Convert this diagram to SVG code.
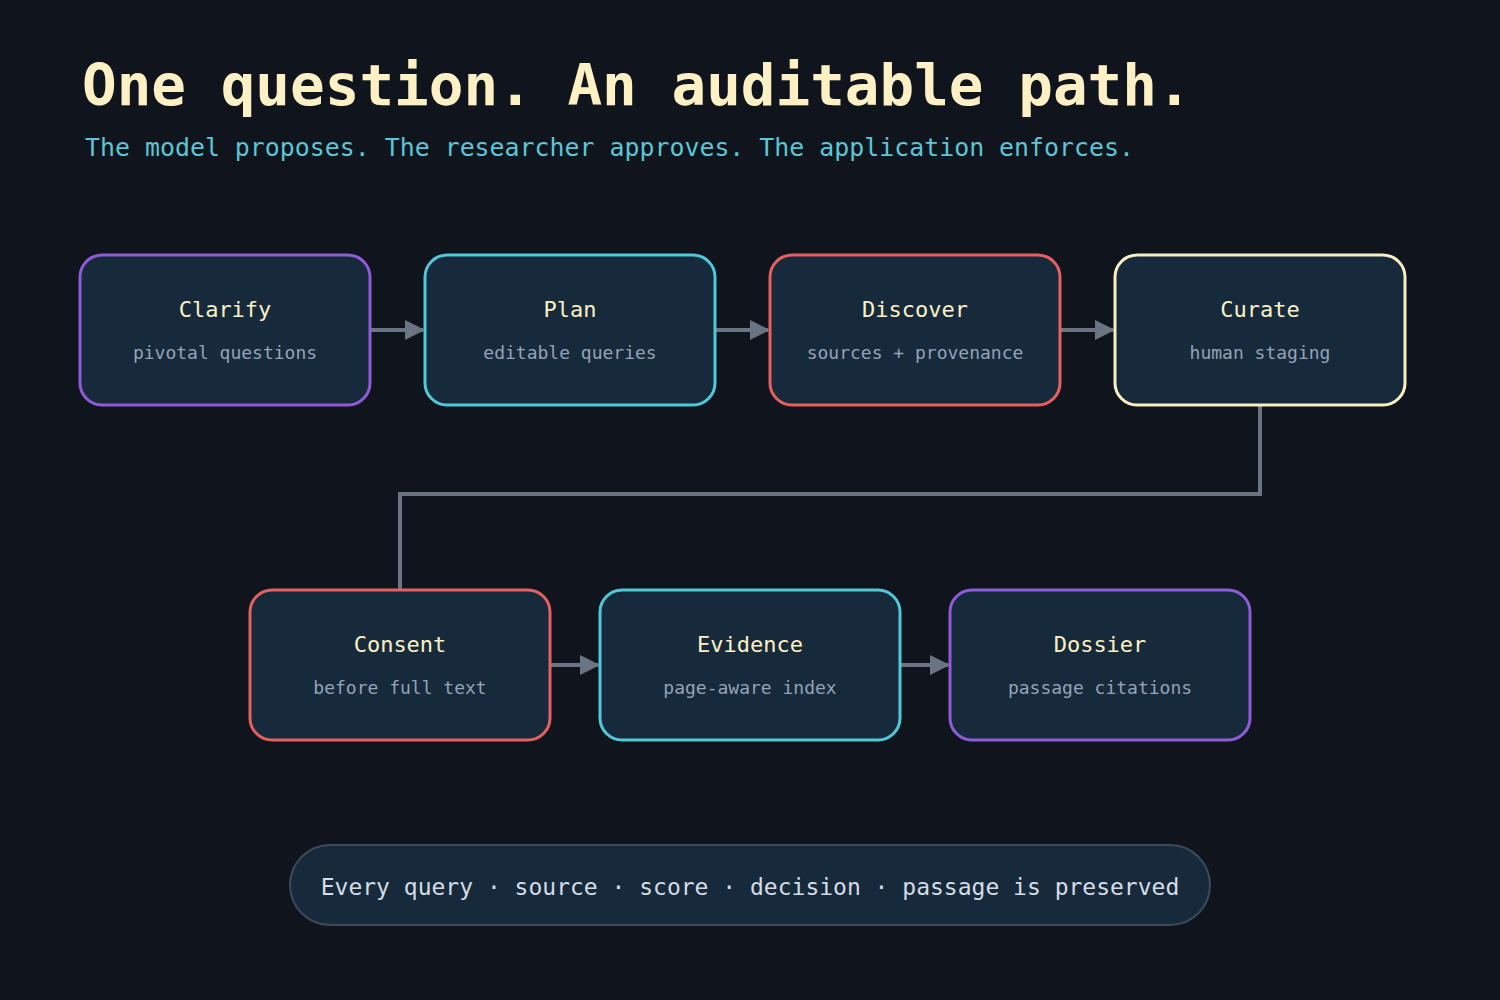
<svg xmlns="http://www.w3.org/2000/svg" width="1500" height="1000" viewBox="0 0 1500 1000">
<defs>
<style>
.t{font-family:"DejaVu Sans Mono","Liberation Mono",monospace}
.box{fill:#172a3b;stroke-width:3}
.nt{font-size:22px;fill:#fdf0c4;text-anchor:middle}
.ns{font-size:18px;fill:#94a3b8;text-anchor:middle}
.c{fill:none;stroke:#6b7482;stroke-width:4}
</style>
<marker id="ah" markerWidth="5" markerHeight="5" refX="4.5" refY="2.5" orient="auto" markerUnits="strokeWidth" viewBox="0 0 5 5">
<path d="M0,0 L5,2.5 L0,5 Z" fill="#6b7482"/>
</marker>
</defs>
<rect width="1500" height="1000" fill="#10151d"/>
<text class="t" x="82" y="105" font-size="57.6" font-weight="bold" fill="#fdf0c4">One question. An auditable path.</text>
<text class="t" x="85" y="156" font-size="24.9" fill="#5ac6d6">The model proposes. The researcher approves. The application enforces.</text>
<g id="connectors">
<line class="c" x1="370" y1="330" x2="423" y2="330" marker-end="url(#ah)"/>
<line class="c" x1="715" y1="330" x2="768" y2="330" marker-end="url(#ah)"/>
<line class="c" x1="1060" y1="330" x2="1113" y2="330" marker-end="url(#ah)"/>
<polyline class="c" points="1260,405 1260,494 400,494 400,590"/>
<line class="c" x1="550" y1="665" x2="598" y2="665" marker-end="url(#ah)"/>
<line class="c" x1="900" y1="665" x2="948" y2="665" marker-end="url(#ah)"/>
</g>
<g id="clarify">
<rect class="box" x="80" y="255" width="290" height="150" rx="22" stroke="#8f5bd8"/>
<text class="t nt" x="225" y="317">Clarify</text>
<text class="t ns" x="225" y="359">pivotal questions</text>
</g>
<g id="plan">
<rect class="box" x="425" y="255" width="290" height="150" rx="22" stroke="#4fc8da"/>
<text class="t nt" x="570" y="317">Plan</text>
<text class="t ns" x="570" y="359">editable queries</text>
</g>
<g id="discover">
<rect class="box" x="770" y="255" width="290" height="150" rx="22" stroke="#e5605f"/>
<text class="t nt" x="915" y="317">Discover</text>
<text class="t ns" x="915" y="359">sources + provenance</text>
</g>
<g id="curate">
<rect class="box" x="1115" y="255" width="290" height="150" rx="22" stroke="#f9efc2"/>
<text class="t nt" x="1260" y="317">Curate</text>
<text class="t ns" x="1260" y="359">human staging</text>
</g>
<g id="consent">
<rect class="box" x="250" y="590" width="300" height="150" rx="22" stroke="#e5605f"/>
<text class="t nt" x="400" y="652">Consent</text>
<text class="t ns" x="400" y="694">before full text</text>
</g>
<g id="evidence">
<rect class="box" x="600" y="590" width="300" height="150" rx="22" stroke="#4fc8da"/>
<text class="t nt" x="750" y="652">Evidence</text>
<text class="t ns" x="750" y="694">page-aware index</text>
</g>
<g id="dossier">
<rect class="box" x="950" y="590" width="300" height="150" rx="22" stroke="#8f5bd8"/>
<text class="t nt" x="1100" y="652">Dossier</text>
<text class="t ns" x="1100" y="694">passage citations</text>
</g>
<g id="footer">
<rect x="290" y="845" width="920" height="80" rx="40" fill="#172a3b" stroke="#3d4a5a" stroke-width="2"/>
<text class="t" x="750" y="895" font-size="23" fill="#d5dce6" text-anchor="middle">Every query · source · score · decision · passage is preserved</text>
</g>
</svg>
